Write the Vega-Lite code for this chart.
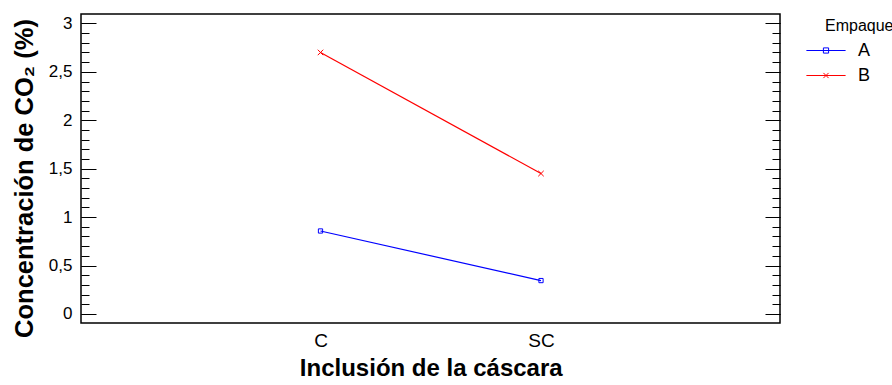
{
  "$schema": "https://vega.github.io/schema/vega-lite/v6.json",
  "autosize": "none",
  "width": 699,
  "height": 309,
  "padding": {"left": 81, "top": 14, "right": 112, "bottom": 62},
  "data": {"values": [
    {"Inclusion": "C", "Empaque": "A", "CO2": 0.857},
    {"Inclusion": "SC", "Empaque": "A", "CO2": 0.345},
    {"Inclusion": "C", "Empaque": "B", "CO2": 2.70},
    {"Inclusion": "SC", "Empaque": "B", "CO2": 1.45}
  ]},
  "layer": [
    {
      "transform": [{"filter": "datum.Empaque == 'A'"}],
      "mark": {"type": "line", "strokeWidth": 1.2, "color": "#0000ff"},
      "encoding": {
        "x": {"field": "Inclusion", "type": "nominal", "sort": ["C", "SC"], "scale": {"type": "point", "padding": 0, "range": [239.5, 460]},
          "axis": {"orient": "bottom", "title": "Inclusión de la cáscara", "ticks": false, "domain": false, "labelAngle": 0, "labelFont": "Liberation Sans", "labelFontSize": 19, "labelColor": "black", "labelPadding": 8, "titleFont": "Liberation Sans", "titleFontSize": 24, "titleFontWeight": "bold", "titleColor": "black", "titlePadding": 6}},
        "y": {"field": "CO2", "type": "quantitative", "scale": {"domain": [-0.093, 3.097], "nice": false, "zero": false},
          "axis": {"orient": "left", "values": [0, 0.5, 1, 1.5, 2, 2.5, 3], "tickSize": -15, "tickColor": "black", "tickWidth": 1, "domain": false, "grid": false, "labelPadding": 24, "labelExpr": "replace(toString(datum.value), '.', ',')", "labelFont": "Liberation Sans", "labelFontSize": 17, "labelColor": "black", "title": "Concentración de CO₂ (%)", "titleFont": "Liberation Sans", "titleFontSize": 25.5, "titleFontWeight": "bold", "titleColor": "black", "titlePadding": 11, "titleY": 164}}
      }
    },
    {
      "transform": [{"filter": "datum.Empaque == 'B'"}],
      "mark": {"type": "line", "strokeWidth": 1.2, "color": "#ff0000"},
      "encoding": {
        "x": {"field": "Inclusion", "type": "nominal", "sort": ["C", "SC"], "scale": {"type": "point", "padding": 0, "range": [239.5, 460]}},
        "y": {"field": "CO2", "type": "quantitative", "scale": {"domain": [-0.093, 3.097], "nice": false, "zero": false},
          "axis": {"orient": "left", "values": [0, 0.1, 0.2, 0.3, 0.4, 0.5, 0.6, 0.7, 0.8, 0.9, 1, 1.1, 1.2, 1.3, 1.4, 1.5, 1.6, 1.7, 1.8, 1.9, 2, 2.1, 2.2, 2.3, 2.4, 2.5, 2.6, 2.7, 2.8, 2.9, 3], "tickSize": -8, "tickColor": "black", "tickWidth": 1, "domain": false, "grid": false, "labels": false, "title": null}}
      }
    },
    {
      "transform": [{"filter": "datum.Empaque == 'A'"}],
      "mark": {"type": "point", "shape": "square", "size": 18, "filled": false, "color": "#0000ff", "strokeWidth": 1, "opacity": 1},
      "encoding": {
        "x": {"field": "Inclusion", "type": "nominal", "sort": ["C", "SC"], "scale": {"type": "point", "padding": 0, "range": [239.5, 460]}},
        "y": {"field": "CO2", "type": "quantitative", "scale": {"domain": [-0.093, 3.097], "nice": false, "zero": false},
          "axis": {"orient": "right", "values": [0, 0.5, 1, 1.5, 2, 2.5, 3], "tickSize": -15, "tickColor": "black", "tickWidth": 1, "domain": false, "grid": false, "labels": false, "title": null}}
      }
    },
    {
      "transform": [{"filter": "datum.Empaque == 'B'"}],
      "mark": {"type": "point", "shape": "M-1,-1L1,1M-1,1L1,-1", "size": 30, "filled": false, "color": "#ff0000", "strokeWidth": 1, "opacity": 1},
      "encoding": {
        "x": {"field": "Inclusion", "type": "nominal", "sort": ["C", "SC"], "scale": {"type": "point", "padding": 0, "range": [239.5, 460]}},
        "y": {"field": "CO2", "type": "quantitative", "scale": {"domain": [-0.093, 3.097], "nice": false, "zero": false},
          "axis": {"orient": "right", "values": [0, 0.1, 0.2, 0.3, 0.4, 0.5, 0.6, 0.7, 0.8, 0.9, 1, 1.1, 1.2, 1.3, 1.4, 1.5, 1.6, 1.7, 1.8, 1.9, 2, 2.1, 2.2, 2.3, 2.4, 2.5, 2.6, 2.7, 2.8, 2.9, 3], "tickSize": -8, "tickColor": "black", "tickWidth": 1, "domain": false, "grid": false, "labels": false, "title": null}}
      }
    },
    {
      "mark": {"type": "point", "filled": false, "opacity": 0, "strokeWidth": 1},
      "encoding": {
        "x": {"field": "Inclusion", "type": "nominal", "sort": ["C", "SC"], "scale": {"type": "point", "padding": 0, "range": [239.5, 460]}},
        "y": {"field": "CO2", "type": "quantitative", "scale": {"domain": [-0.093, 3.097], "nice": false, "zero": false}, "axis": null},
        "color": {"field": "Empaque", "type": "nominal", "scale": {"domain": ["A", "B"], "range": ["#0000ff", "#ff0000"]},
          "legend": {"title": "Empaque", "orient": "none", "legendX": 744, "legendY": 3.5, "symbolSize": 64, "symbolStrokeWidth": 1, "symbolOffset": -8, "labelFont": "Liberation Sans", "labelFontSize": 18, "labelColor": "black", "labelOffset": 23, "titleFont": "Liberation Sans", "titleFontSize": 16, "titleFontWeight": "normal", "titleColor": "black", "titlePadding": 8, "rowPadding": 7,
            "encode": {"symbols": {"update": {"stroke": {"scale": "color", "field": "value"}, "strokeOpacity": {"value": 1}, "opacity": {"value": 1}}}}}},
        "shape": {"field": "Empaque", "type": "nominal", "scale": {"domain": ["A", "B"], "range": ["M-4.9,0H4.9M-0.65,-0.65H0.65V0.65H-0.65Z", "M-4.9,0H4.9M-0.65,-0.65L0.65,0.65M-0.65,0.65L0.65,-0.65"]},
          "legend": {"title": "Empaque", "orient": "none", "legendX": 744, "legendY": 3.5, "symbolSize": 64, "symbolStrokeWidth": 1, "symbolOffset": -8, "labelFont": "Liberation Sans", "labelFontSize": 18, "labelColor": "black", "labelOffset": 23, "titleFont": "Liberation Sans", "titleFontSize": 16, "titleFontWeight": "normal", "titleColor": "black", "titlePadding": 8, "rowPadding": 7,
            "encode": {"symbols": {"update": {"stroke": {"scale": "color", "field": "value"}, "strokeOpacity": {"value": 1}, "opacity": {"value": 1}}}}}}
      }
    }
  ],
  "resolve": {"axis": {"y": "independent"}},
  "config": {
    "view": {"stroke": "black", "strokeWidth": 1.5},
    "axis": {"grid": false}
  }
}
